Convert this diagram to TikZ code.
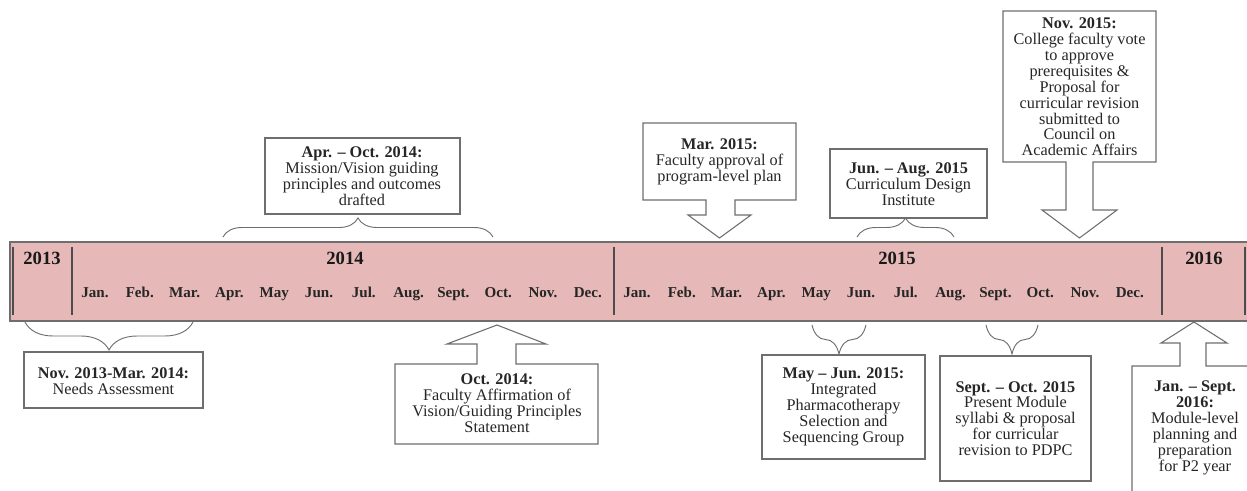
\documentclass[tikz,border=0pt]{standalone}
\usepackage{fontspec}
\setmainfont{Liberation Serif}
\usetikzlibrary{decorations.pathreplacing}
\definecolor{bandpink}{HTML}{E6B9B8}
\definecolor{edgegray}{HTML}{6E6E6E}

\begin{document}
\begin{tikzpicture}[x=0.75pt,y=-0.75pt,
  box/.style={draw=edgegray,fill=white,line width=0.8pt},
  lbl/.style={align=center,inner sep=0pt,text=black!85,font=\fontsize{12.2}{11.9}\selectfont},
  mon/.style={inner sep=0pt,anchor=base,text=black!85,font=\fontsize{11.3}{13}\selectfont\bfseries},
  yr/.style={inner sep=0pt,anchor=base,text=black!90,font=\fontsize{14}{16}\selectfont\bfseries},
  brc/.style={draw=edgegray,line width=0.7pt,decorate,decoration={brace,amplitude=#1}}]
  \useasboundingbox (0,0) rectangle (1247,491);

  % timeline band
  \draw[draw=edgegray,fill=bandpink,line width=1.1pt] (10,242) rectangle (1256,321);
  \foreach \x in {13,72,614,1162,1245}
    \draw[edgegray!70!black,line width=0.8pt] (\x,247) -- (\x,315);
  % years
  \foreach \x/\yy in {42/2013, 345/2014, 897/2015, 1204/2016}
    \node[yr] (y\yy) at (\x,265) {\yy};
  % months: 44.8 px apart
  \foreach \m [count=\i from 0] in {Jan.,Feb.,Mar.,Apr.,May,Jun.,Jul.,Aug.,Sept.,Oct.,Nov.,Dec.} {
    \node[mon] (a\i) at ({95+44.8*\i},298) {\m};
    \node[mon] (b\i) at ({637+44.8*\i},298) {\m};
  }

  % above the band
  \draw[box] (265,138) rectangle (460,214);
  \node[lbl] (apr14) at (362,176) {\textbf{Apr. – Oct. 2014:}\\Mission/Vision guiding\\principles and outcomes\\drafted};
  \draw[brc=14.25pt] (223,237) -- (493,237);

  \draw[box] (643,123) -- (796,123) -- (796,200) -- (735,200) -- (735,215) -- (751,215)
    -- (719.5,238) -- (688,215) -- (706,215) -- (706,200) -- (643,200) -- cycle;
  \node[lbl] (mar15) at (719.5,162) {\textbf{Mar. 2015:}\\Faculty approval of\\program-level plan};

  \draw[box] (830,149) rectangle (987,218);
  \node[lbl] (jun15) at (908.5,184) {\textbf{Jun. – Aug. 2015}\\Curriculum Design\\Institute};
  \draw[brc=14.25pt] (857,237) -- (954,237);

  \draw[box] (1003,11) -- (1156,11) -- (1156,162) -- (1093,162) -- (1093,210) -- (1117,210)
    -- (1079.5,238) -- (1042,210) -- (1066,210) -- (1066,162) -- (1003,162) -- cycle;
  \node[lbl] (nov15) at (1079.5,87) {\textbf{Nov. 2015:}\\College faculty vote\\to approve\\prerequisites \&\\Proposal for\\curricular revision\\submitted to\\Council on\\Academic Affairs};

  % below the band
  \draw[brc=21pt] (193,322) -- (25,322);
  \draw[box] (24,352) rectangle (203,408);
  \node[lbl] (nov13) at (113.5,381) {\textbf{Nov. 2013-Mar. 2014:}\\Needs Assessment};

  \draw[box] (395,364) -- (477,364) -- (477,344) -- (447,344) -- (497,325) -- (546,344)
    -- (516,344) -- (516,364) -- (598,364) -- (598,444) -- (395,444) -- cycle;
  \node[lbl] (oct14) at (497,403) {\textbf{Oct. 2014:}\\Faculty Affirmation of\\Vision/Guiding Principles\\Statement};

  \draw[brc=21.75pt] (866,325) -- (812,325);
  \draw[box] (762,355) rectangle (925,459);
  \node[lbl] (may15) at (843.5,407) {\textbf{May – Jun. 2015:}\\Integrated\\Pharmacotherapy\\Selection and\\Sequencing Group};

  \draw[brc=21.75pt] (1038,325) -- (986,325);
  \draw[box] (940,356) rectangle (1091,481);
  \node[lbl] (sep15) at (1015.5,418.5) {\textbf{Sept. – Oct. 2015}\\Present Module\\syllabi \& proposal\\for curricular\\revision to PDPC};

  \draw[box] (1132,500) -- (1132,366) -- (1180,366) -- (1180,343) -- (1161,343) -- (1194,322)
    -- (1227,343) -- (1206,343) -- (1206,366) -- (1260,366) -- (1260,500) -- cycle;
  \node[lbl] (jan16) at (1195,428) {\textbf{Jan. – Sept.}\\\textbf{2016:}\\Module-level\\planning and\\preparation\\for P2 year};
\end{tikzpicture}
\end{document}
